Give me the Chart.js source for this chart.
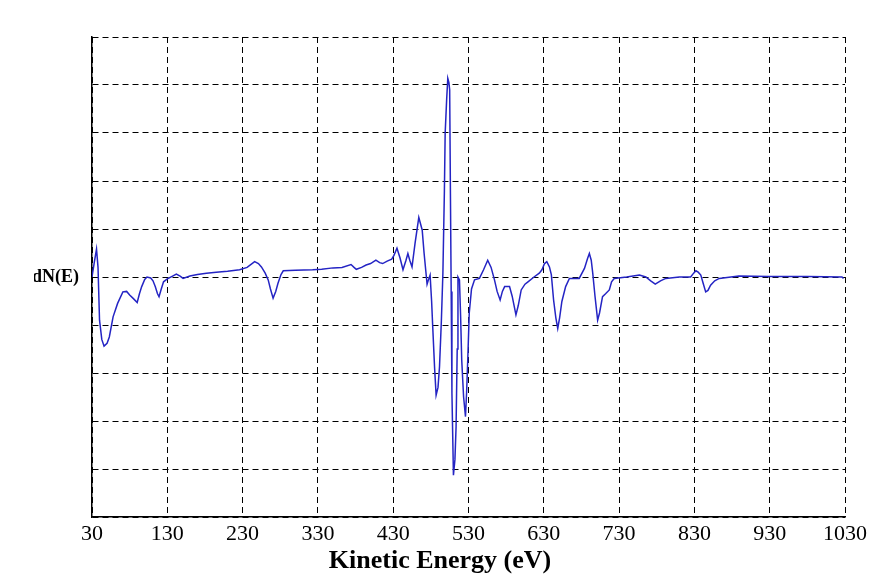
<!DOCTYPE html>
<html>
<head>
<meta charset="utf-8">
<script src="https://cdn.jsdelivr.net/npm/chart.js@4/dist/chart.umd.min.js"></script>
<style>
  html, body { margin: 0; padding: 0; background: #fff; }
  #wrap { width: 871px; height: 581px; }
</style>
</head>
<body>
<div id="wrap"><canvas id="aes"></canvas></div>
<script>
// Kinetic energy (eV) and derivative signal dN(E)
const energy = [
  30, 33, 36, 38, 40, 43, 46, 50, 53, 58, 64, 71, 76, 80, 85, 90, 93, 96, 100, 103,
  108, 111, 114, 117, 119, 122, 125, 130, 137, 142, 147, 151, 160, 170, 182, 195, 210, 226, 236, 246,
  251, 255, 260, 264, 267, 270.5, 274, 277, 281, 284, 300, 323, 335, 350, 362, 374, 378, 381, 388, 394,
  400, 407, 412, 416, 422, 428, 431, 435, 439, 443, 447, 449.5, 452, 455, 459, 464, 468.5, 471, 475, 477,
  479, 481, 482.5, 485, 487, 489.5, 491.5, 494, 496, 498, 499, 501, 502.5, 504, 505, 506, 507, 508, 510, 512,
  513.5, 515, 516, 518, 519.5, 521, 523.5, 526, 527.5, 529, 531, 534, 538, 544.5, 550, 555.5, 560, 564.5, 568, 572,
  575, 578, 584.5, 588, 593, 596, 600, 605, 609, 617, 624, 627.5, 631, 634, 637.5, 640, 643, 646, 648.5, 651,
  654, 659, 664, 670, 677, 684, 688, 690.5, 693, 695, 698, 701.5, 704, 708, 712, 717, 720, 723.5, 740, 757,
  765.5, 772, 778, 785, 792, 810, 825, 829, 832, 835, 838.5, 842, 845, 848, 851.5, 857, 863, 889, 930, 980,
  1026, 1028
];
const dNE = [
  0, 0.3, 0.58, 0.2, -0.9, -1.3, -1.44, -1.38, -1.25, -0.83, -0.55, -0.31, -0.3, -0.375, -0.45, -0.53, -0.35, -0.2, -0.05, 0,
  -0.02, -0.08, -0.2, -0.35, -0.41, -0.25, -0.1, -0.04, 0.02, 0.06, 0.02, -0.03, 0.02, 0.05, 0.08, 0.1, 0.12, 0.15, 0.2, 0.32,
  0.28, 0.21, 0.08, -0.06, -0.25, -0.44, -0.3, -0.13, 0.05, 0.13, 0.14, 0.15, 0.16, 0.19, 0.2, 0.26, 0.2, 0.16, 0.2, 0.25,
  0.28, 0.35, 0.3, 0.28, 0.33, 0.37, 0.45, 0.6, 0.4, 0.15, 0.35, 0.49, 0.35, 0.21, 0.7, 1.24, 0.98, 0.5, -0.15, -0.05,
  0.04, -0.5, -1.04, -1.9, -2.46, -2.3, -1.87, -0.9, 0.08, 1.8, 2.99, 3.7, 4.14, 4.05, 3.9, 1.74, -0.3, -2.42, -4.13, -3.8,
  -3.12, -1.5, 0, -0.06, -0.8, -1.73, -2.5, -2.91, -2.4, -1.73, -0.75, -0.25, -0.06, -0.03, 0.15, 0.35, 0.2, -0.06, -0.3, -0.48,
  -0.3, -0.2, -0.2, -0.4, -0.79, -0.6, -0.27, -0.15, -0.1, 0, 0.08, 0.15, 0.28, 0.32, 0.21, 0.05, -0.48, -0.85, -1.07, -0.85,
  -0.51, -0.2, -0.03, -0.03, -0.03, 0.18, 0.38, 0.49, 0.35, 0.08, -0.4, -0.9, -0.75, -0.41, -0.35, -0.27, -0.1, -0.03, 0, 0.04,
  0, -0.08, -0.15, -0.08, -0.03, 0, 0, 0.08, 0.13, 0.1, 0.04, -0.15, -0.31, -0.28, -0.17, -0.08, -0.03, 0.02, 0.01, 0.01,
  0, -0.03
];
const xTicks = [30, 130, 230, 330, 430, 530, 630, 730, 830, 930, 1030];
const yTicks = [-5, -4, -3, -2, -1, 0, 1, 2, 3, 4, 5];
const yLabel = 'dN(E)';
const xTitle = 'Kinetic Energy (eV)';

const serif = "'Liberation Serif', 'Times New Roman', serif";
const gridDash = [6, 4];

new Chart(document.getElementById('aes'), {
  type: 'line',
  data: {
    datasets: [{
      data: energy.map((e, i) => ({ x: e, y: dNE[i] })),
      borderColor: '#2424c4',
      borderWidth: 1.5,
      pointRadius: 0,
      tension: 0,
      fill: false,
    }],
  },
  options: {
    responsive: true,
    maintainAspectRatio: false,
    animation: false,
    events: [],
    // left padding shifts the bottom title so it sits left of the plot centre, like the original
    layout: { padding: { top: 37, right: 25, left: 34, bottom: 0 } },
    plugins: {
      legend: { display: false },
      tooltip: { enabled: false },
      title: {
        display: true,
        position: 'bottom',
        text: xTitle,
        color: '#000',
        font: { family: serif, size: 26, weight: 'bold' },
        padding: { top: 4, bottom: 4 },
      },
    },
    scales: {
      x: {
        type: 'linear',
        min: 30,
        max: 1030,
        afterBuildTicks: scale => { scale.ticks = xTicks.map(v => ({ value: v })); },
        afterFit: scale => { scale.height = 24.8; },
        ticks: {
          color: '#000',
          font: { family: serif, size: 22 },
          padding: 4,
          maxRotation: 0,
          autoSkip: false,
          callback: v => String(v),
        },
        grid: { color: '#000', lineWidth: 1, drawTicks: false },
        border: { display: true, color: '#000', width: 1.5, dash: gridDash },
      },
      y: {
        type: 'linear',
        min: -5,
        max: 5,
        afterBuildTicks: scale => { scale.ticks = yTicks.map(v => ({ value: v })); },
        afterFit: scale => { scale.width = 58; },
        ticks: {
          color: '#000',
          font: { family: serif, size: 18, weight: 'bold' },
          padding: 13,
          autoSkip: false,
          callback: v => (v === 0 ? yLabel : ''),
        },
        grid: { color: '#000', lineWidth: 1, drawTicks: false },
        border: { display: true, color: '#000', width: 1.5, dash: gridDash },
      },
    },
  },
});
</script>
</body>
</html>
